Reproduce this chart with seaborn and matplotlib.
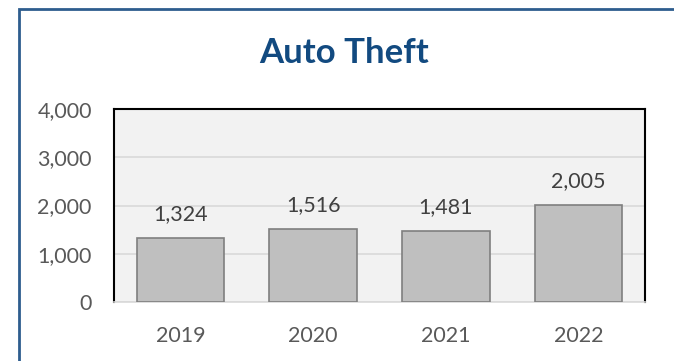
import matplotlib
matplotlib.use("Agg")
import matplotlib.pyplot as plt
from matplotlib.patches import Rectangle
import seaborn as sns
import pandas as pd

years = ["2019", "2020", "2021", "2022"]
thefts = [1324, 1516, 1481, 2005]
y_ticks = [0, 1000, 2000, 3000, 4000]
title = "Auto Theft"

df = pd.DataFrame({"year": years, "thefts": thefts})

sns.set_theme(style="white")
plt.rcParams["font.family"] = ["Lato", "DejaVu Sans"]

fig = plt.figure(figsize=(6.74, 3.61), dpi=100)
ax = fig.add_axes([114 / 674, 1 - 302 / 361, (645 - 114) / 674, (302 - 109) / 361])
ax.set_facecolor("#f2f2f2")

sns.barplot(data=df, x="year", y="thefts", color="#bfbfbf", edgecolor="#7f7f7f",
            linewidth=1.2, width=0.66, saturation=1, ax=ax, zorder=3)

ax.set_ylim(0, 4000)
ax.set_yticks(y_ticks)
ax.set_yticklabels([f"{v:,}" for v in y_ticks])
ax.set_xlabel("")
ax.set_ylabel("")
ax.grid(axis="y", color="#d9d9d9", linewidth=1.2, zorder=0)
ax.set_axisbelow(True)
ax.tick_params(axis="y", length=0, pad=16, labelsize=15.5, labelcolor="#595959")
ax.tick_params(axis="x", length=0, pad=17, labelsize=15.5, labelcolor="#595959")

for side in ["left", "top", "right"]:
    ax.spines[side].set_color("black")
    ax.spines[side].set_linewidth(1.5)
ax.spines["bottom"].set_color("#d9d9d9")
ax.spines["bottom"].set_linewidth(1.2)

for cont in ax.containers:
    ax.bar_label(cont, labels=[f"{v:,}" for v in thefts], padding=10,
                 fontsize=15.5, color="#404040")

fig.text(344 / 674, 1 - 53 / 361, title, ha="center", va="center",
         fontsize=25, fontweight="bold", color="#124a80")

# outer frame around the chart
fig.patches.append(Rectangle((19 / 674, -0.1), 1.2, 1 - 9 / 361 + 0.1,
                             transform=fig.transFigure, fill=False,
                             edgecolor="#2e5d8e", linewidth=2))

fig.savefig("out.png", dpi=100)
